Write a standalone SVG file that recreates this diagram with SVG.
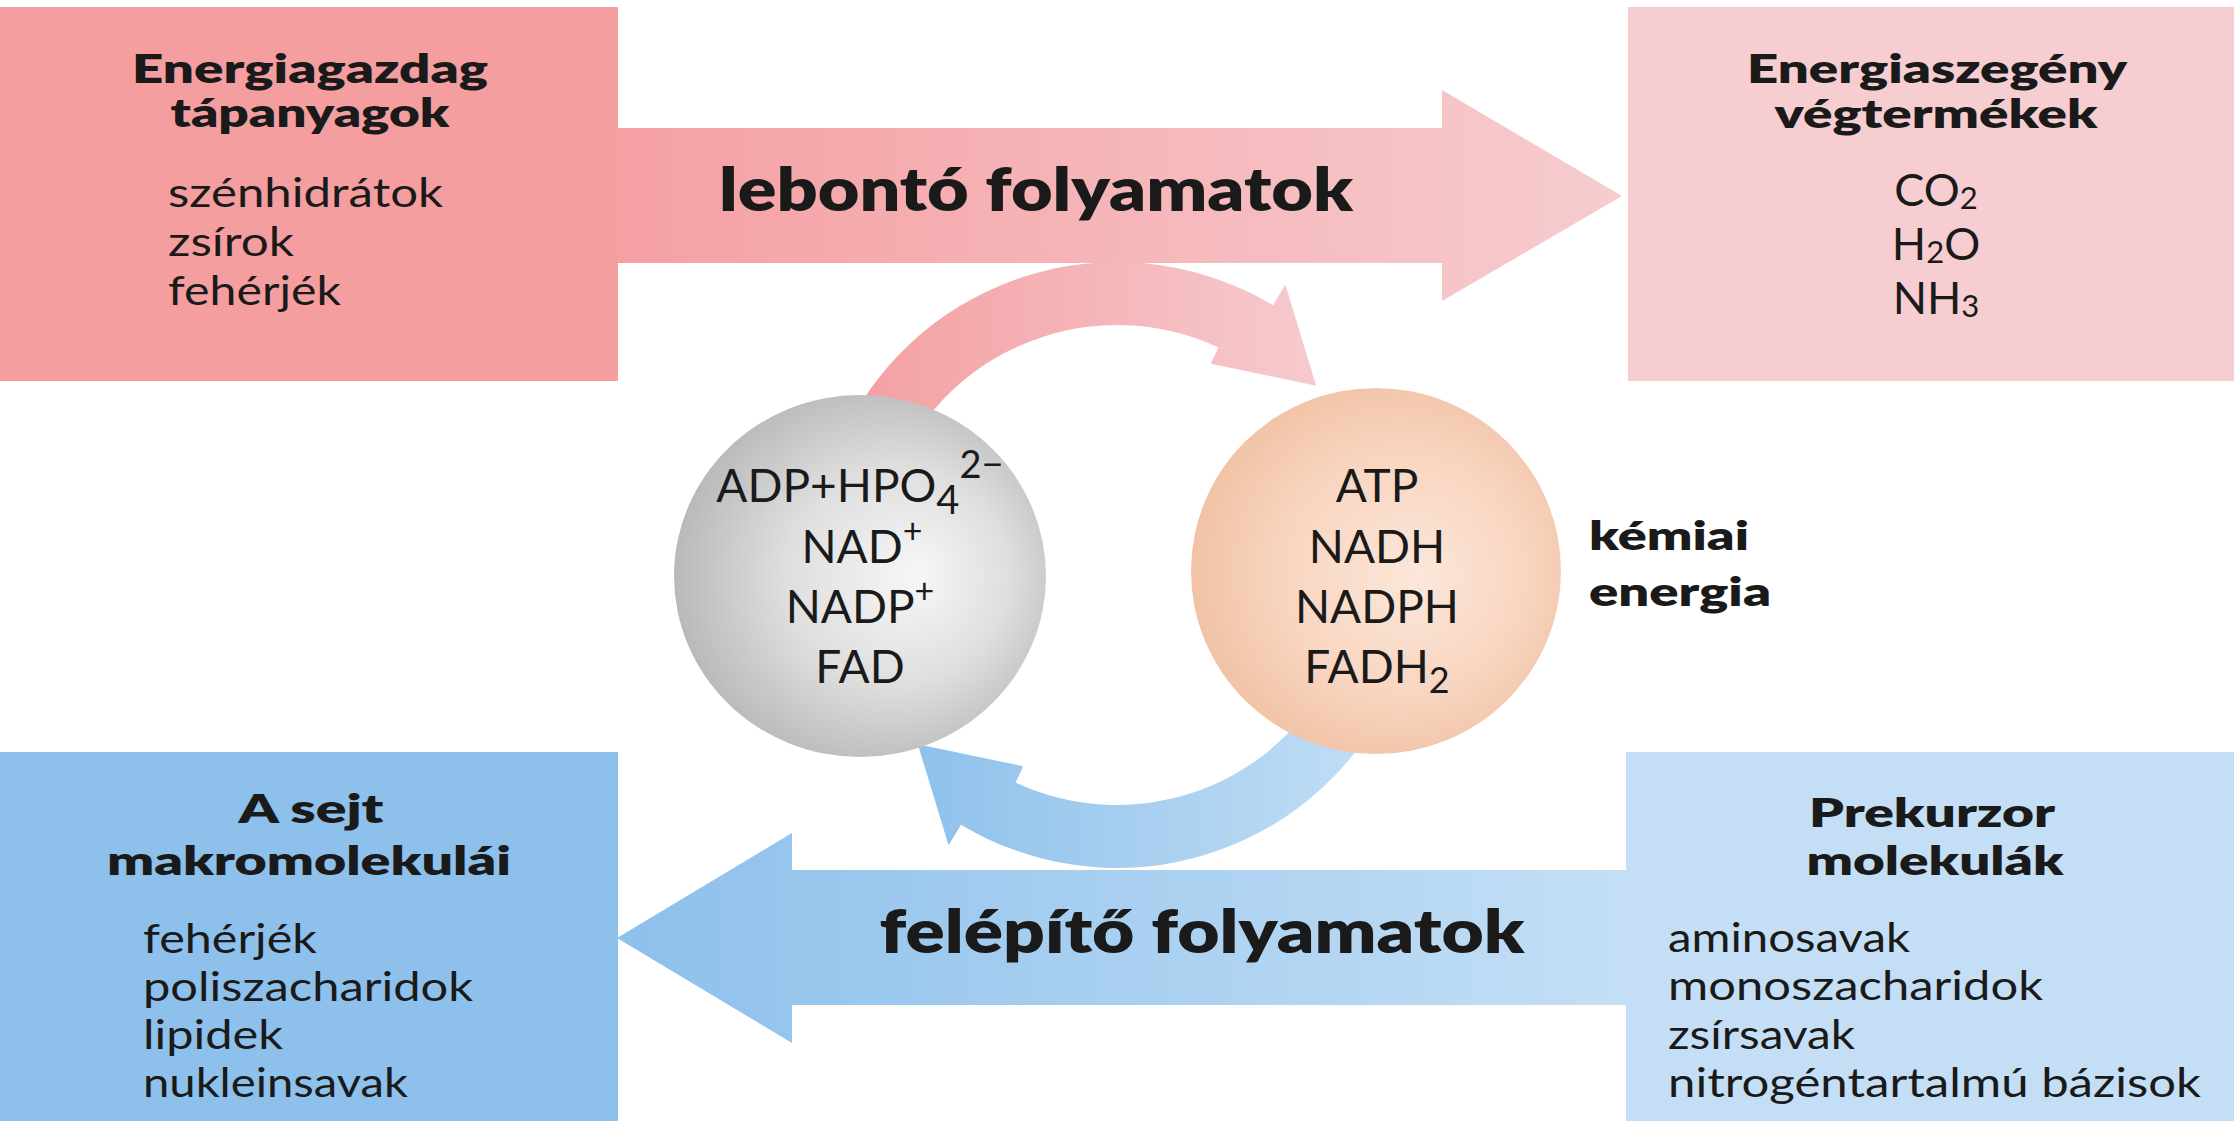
<svg xmlns="http://www.w3.org/2000/svg" width="2234" height="1121" viewBox="0 0 2234 1121">
  <defs>
    <linearGradient id="gTopArrow" gradientUnits="userSpaceOnUse" x1="615" y1="0" x2="1622" y2="0">
      <stop offset="0" stop-color="#F5A0A3"/>
      <stop offset="1" stop-color="#F6CCCF"/>
    </linearGradient>
    <linearGradient id="gBotArrow" gradientUnits="userSpaceOnUse" x1="617" y1="0" x2="1630" y2="0">
      <stop offset="0" stop-color="#8DC0EB"/>
      <stop offset="1" stop-color="#C4DFF5"/>
    </linearGradient>
    <linearGradient id="gRedArc" gradientUnits="userSpaceOnUse" x1="860" y1="0" x2="1320" y2="0">
      <stop offset="0" stop-color="#F4A0A3"/>
      <stop offset="1" stop-color="#F6CBCE"/>
    </linearGradient>
    <linearGradient id="gBlueArc" gradientUnits="userSpaceOnUse" x1="915" y1="0" x2="1385" y2="0">
      <stop offset="0" stop-color="#8EC1EB"/>
      <stop offset="1" stop-color="#C3DEF5"/>
    </linearGradient>
    <radialGradient id="gGrey" cx="0.55" cy="0.5" r="0.55" fx="0.66" fy="0.5">
      <stop offset="0" stop-color="#F7F7F7"/>
      <stop offset="0.55" stop-color="#DEDEDE"/>
      <stop offset="1" stop-color="#B9B9B9"/>
    </radialGradient>
    <radialGradient id="gOrange" cx="0.55" cy="0.5" r="0.55" fx="0.62" fy="0.52">
      <stop offset="0" stop-color="#FCE7DA"/>
      <stop offset="0.6" stop-color="#F8D5C0"/>
      <stop offset="1" stop-color="#F1C2A5"/>
    </radialGradient>
  </defs>
  <style>
    .t { font-family: Lato, "Liberation Sans", sans-serif; fill: #1a1a1a; }
    .title { font-weight: 800; font-size: 40px; }
    .body { font-size: 40px; }
    .formula { font-size: 45px; }
    .mol { font-size: 46px; }
    .big { font-weight: 800; font-size: 60px; }
    .side { font-weight: 800; font-size: 40px; }
  </style>

  <rect x="0" y="0" width="2234" height="1121" fill="#FFFFFF"/>

  <g id="connectors">
    <g id="arrow-lebonto">
      <polygon points="610,128 1442,128 1442,90 1622,196 1442,301 1442,263 610,263" fill="url(#gTopArrow)"/>
      <text class="t big" x="1036" y="211" text-anchor="middle" textLength="634" lengthAdjust="spacingAndGlyphs">lebontó folyamatok</text>
    </g>
    <g id="arrow-felepito">
      <polygon points="1632,870 792,870 792,833 617,938 792,1043 792,1005 1632,1005" fill="url(#gBotArrow)"/>
      <text class="t big" x="1202" y="953" text-anchor="middle" textLength="645" lengthAdjust="spacingAndGlyphs">felépítő folyamatok</text>
    </g>
    <path id="arc-red" d="M 854.6 413.5 A 303 303 0 0 1 1273.0 305.3 L 1285.4 284.7 L 1316.2 385.7 L 1210.8 363.8 L 1218.4 347.5 A 240 240 0 0 0 909.2 445 Z" fill="url(#gRedArc)"/>
    <path id="arc-blue" d="M 1379.4 716.5 A 303 303 0 0 1 961.0 824.7 L 948.6 845.3 L 917.8 744.3 L 1023.2 766.2 L 1015.6 782.5 A 240 240 0 0 0 1324.8 685 Z" fill="url(#gBlueArc)"/>
  </g>

  <g id="box-energiagazdag">
    <rect x="0" y="7" width="618" height="374" fill="#F59EA0"/>
    <text class="t title" x="310" y="83" text-anchor="middle" textLength="356" lengthAdjust="spacingAndGlyphs">Energiagazdag</text>
    <text class="t title" x="310" y="127" text-anchor="middle" textLength="279" lengthAdjust="spacingAndGlyphs">tápanyagok</text>
    <text class="t body" x="168" y="207" textLength="275" lengthAdjust="spacingAndGlyphs">szénhidrátok</text>
    <text class="t body" x="168" y="256" textLength="126" lengthAdjust="spacingAndGlyphs">zsírok</text>
    <text class="t body" x="168" y="305" textLength="173" lengthAdjust="spacingAndGlyphs">fehérjék</text>
  </g>

  <g id="box-energiaszegeny">
    <rect x="1628" y="7" width="606" height="374" fill="#F6CDD0"/>
    <text class="t title" x="1937" y="83" text-anchor="middle" textLength="380" lengthAdjust="spacingAndGlyphs">Energiaszegény</text>
    <text class="t title" x="1936" y="128" text-anchor="middle" textLength="323" lengthAdjust="spacingAndGlyphs">végtermékek</text>
    <text class="t formula" text-anchor="middle"><tspan x="1936" y="206">CO<tspan font-size="31" dy="3">2</tspan></tspan><tspan x="1936" y="260">H<tspan font-size="31" dy="3">2</tspan><tspan dy="-3">O</tspan></tspan><tspan x="1936" y="314">NH<tspan font-size="31" dy="3">3</tspan></tspan></text>
  </g>

  <g id="box-makromolekulak">
    <rect x="0" y="752" width="618" height="369" fill="#8DC0EB"/>
    <text class="t title" x="311" y="823" text-anchor="middle" textLength="145" lengthAdjust="spacingAndGlyphs">A sejt</text>
    <text class="t title" x="309" y="875" text-anchor="middle" textLength="404" lengthAdjust="spacingAndGlyphs">makromolekulái</text>
    <text class="t body" x="143" y="953" textLength="174" lengthAdjust="spacingAndGlyphs">fehérjék</text>
    <text class="t body" x="143" y="1001" textLength="330" lengthAdjust="spacingAndGlyphs">poliszacharidok</text>
    <text class="t body" x="143" y="1049" textLength="140" lengthAdjust="spacingAndGlyphs">lipidek</text>
    <text class="t body" x="143" y="1097" textLength="265" lengthAdjust="spacingAndGlyphs">nukleinsavak</text>
  </g>

  <g id="box-prekurzor">
    <rect x="1626" y="752" width="608" height="369" fill="#C4DFF5"/>
    <text class="t title" x="1932" y="827" text-anchor="middle" textLength="246" lengthAdjust="spacingAndGlyphs">Prekurzor</text>
    <text class="t title" x="1935" y="875" text-anchor="middle" textLength="257" lengthAdjust="spacingAndGlyphs">molekulák</text>
    <text class="t body" x="1668" y="952" textLength="242" lengthAdjust="spacingAndGlyphs">aminosavak</text>
    <text class="t body" x="1668" y="1000" textLength="375" lengthAdjust="spacingAndGlyphs">monoszacharidok</text>
    <text class="t body" x="1668" y="1049" textLength="187" lengthAdjust="spacingAndGlyphs">zsírsavak</text>
    <text class="t body" x="1668" y="1097" textLength="533" lengthAdjust="spacingAndGlyphs">nitrogéntartalmú bázisok</text>
  </g>

  <g id="circle-adp">
    <ellipse cx="860" cy="576" rx="186" ry="181" fill="url(#gGrey)"/>
    <text class="t mol" x="860" y="502" text-anchor="middle">ADP+HPO<tspan font-size="40" dy="12">4</tspan><tspan font-size="38" dy="-36">2−</tspan></text>
    <text class="t mol" x="862" y="563" text-anchor="middle">NAD<tspan font-size="34" dy="-20">+</tspan></text>
    <text class="t mol" x="860" y="623" text-anchor="middle">NADP<tspan font-size="34" dy="-20">+</tspan></text>
    <text class="t mol" x="860" y="683" text-anchor="middle">FAD</text>
  </g>

  <g id="circle-atp">
    <ellipse cx="1376" cy="571" rx="185" ry="183" fill="url(#gOrange)"/>
    <text class="t mol" x="1377" y="502" text-anchor="middle">ATP</text>
    <text class="t mol" x="1377" y="563" text-anchor="middle">NADH</text>
    <text class="t mol" x="1377" y="623" text-anchor="middle">NADPH</text>
    <text class="t mol" x="1377" y="683" text-anchor="middle">FADH<tspan font-size="36" dy="10">2</tspan></text>
  </g>

  <g id="label-kemiai-energia">
    <text class="t side" x="1589" y="550" textLength="160" lengthAdjust="spacingAndGlyphs">kémiai</text>
    <text class="t side" x="1589" y="606" textLength="182" lengthAdjust="spacingAndGlyphs">energia</text>
  </g>
</svg>
